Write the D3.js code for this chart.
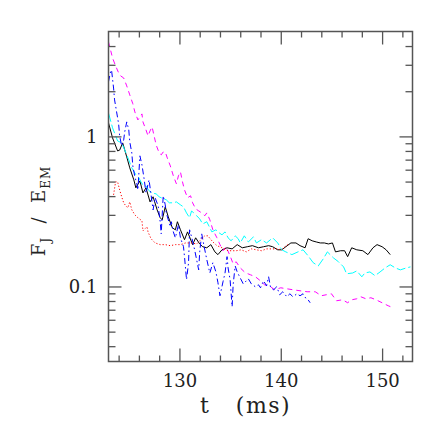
<!DOCTYPE html>
<html>
<head>
<meta charset="utf-8">
<script src="https://cdn.jsdelivr.net/npm/d3@7"></script>
<style>
body { margin: 0; background: #fff; }
text { font-family: "DejaVu Serif", "Liberation Serif", serif; fill: #222; }
</style>
</head>
<body>
<div id="chart"></div>
<script>
// F_J / E_EM versus time, five runs

var tBlack = [123.0,123.4,123.9,124.1,124.4,124.8,125.1,125.5,125.7,126.1,126.4,126.7,127.1,127.4,127.8,128.1,128.3,128.6,128.9,129.3,129.6,129.8,130.1,130.5,130.8,131.0,131.3,131.6,132.0,132.3,132.7,133.1,133.5,133.8,134.2,134.7,135.2,135.7,136.2,136.7,137.2,137.8,138.3,138.8,139.2,139.7,140.1,140.5,141.0,141.5,141.9,142.4,142.7,143.1,143.5,143.9,144.3,144.7,145.1,145.4,145.9,146.3,146.6,147.0,147.5,148.1,148.6,149.1,149.5,150.0,150.4,150.8];
var vBlack = [1.23,0.977,0.80,0.81,0.905,0.73,0.617,0.513,0.454,0.505,0.42,0.454,0.366,0.396,0.324,0.287,0.278,0.339,0.291,0.246,0.2385,0.27,0.2385,0.205,0.231,0.214,0.19,0.211,0.192,0.184,0.181,0.19,0.170,0.163,0.1755,0.181,0.178,0.19,0.181,0.184,0.187,0.181,0.184,0.187,0.184,0.1755,0.1755,0.184,0.195,0.195,0.187,0.181,0.208,0.2015,0.198,0.195,0.195,0.192,0.195,0.170,0.173,0.173,0.158,0.181,0.1755,0.173,0.163,0.181,0.19,0.184,0.1755,0.163];

var tCyan = [123.0,123.4,123.9,124.3,124.6,125.0,125.3,125.7,126.0,126.3,126.7,127.0,127.3,127.7,128.0,128.4,128.7,129.0,129.4,129.7,130.1,130.4,130.7,131.0,131.2,131.4,131.7,132.0,132.3,132.7,133.0,133.2,133.6,133.9,134.2,134.5,134.8,135.1,135.5,135.8,136.0,136.4,136.8,137.3,137.6,138.1,138.6,139.2,139.7,140.1,140.5,141.1,141.7,142.2,142.7,143.2,143.7,144.2,144.6,145.2,145.7,146.2,146.5,147.1,147.5,148.0,148.3,148.8,149.3,149.8,150.3,150.8,151.3,151.8,152.4,152.8];
var vCyan = [1.43,1.14,0.933,0.905,0.813,0.697,0.617,0.555,0.529,0.483,0.468,0.434,0.42,0.414,0.396,0.384,0.378,0.361,0.361,0.366,0.35,0.339,0.309,0.287,0.319,0.309,0.296,0.282,0.261,0.27,0.246,0.231,0.2385,0.228,0.221,0.231,0.211,0.2015,0.2175,0.208,0.195,0.2175,0.198,0.214,0.195,0.205,0.195,0.211,0.195,0.1755,0.170,0.163,0.170,0.1755,0.16,0.144,0.137,0.153,0.170,0.155,0.146,0.135,0.1215,0.123,0.127,0.116,0.123,0.125,0.118,0.125,0.133,0.1395,0.133,0.129,0.133,0.135];

var tMagenta = [123.0,123.2,123.4,123.7,124.0,124.2,124.5,124.8,125.1,125.4,125.6,125.9,126.1,126.3,126.4,126.7,126.9,127.1,127.3,127.5,127.7,128.0,128.2,128.4,128.6,128.8,129.1,129.4,129.7,129.9,130.1,130.3,130.5,130.8,131.1,131.3,131.6,131.9,132.2,132.5,132.7,133.0,133.3,133.7,134.0,134.3,134.6,135.0,135.3,135.6,136.0,136.5,137.0,137.5,138.0,138.4,139.0,139.4,140.0,140.6,141.2,141.9,142.6,143.4,144.0,144.5,145.0,145.5,146.1,146.6,147.0,147.5,147.9,148.4,148.9,149.4,150.0,150.6,151.1];
var vMagenta = [4.26,3.77,3.33,2.95,2.65,2.53,2.45,2.17,1.89,1.65,1.456,1.288,1.349,1.412,1.249,1.105,1.008,1.088,1.157,1.008,0.878,0.776,0.753,0.788,0.788,0.719,0.636,0.546,0.483,0.546,0.58,0.498,0.44,0.39,0.402,0.361,0.329,0.319,0.309,0.296,0.309,0.278,0.2385,0.211,0.19,0.173,0.184,0.16,0.1416,0.146,0.133,0.1234,0.1197,0.116,0.109,0.1026,0.0995,0.0951,0.098,0.0965,0.0951,0.0936,0.0922,0.0922,0.0867,0.0881,0.0894,0.0803,0.0815,0.0779,0.0815,0.0828,0.0854,0.0828,0.0841,0.0815,0.0779,0.0744,0.0721];

var tBlue = [123.0,123.2,123.3,123.5,123.6,123.8,124.0,124.1,124.3,124.5,124.6,124.8,125.0,125.1,125.3,125.4,125.6,125.8,125.9,126.1,126.3,126.5,126.7,127.0,127.2,127.4,127.6,127.9,128.1,128.2,128.4,128.6,128.7,128.9,129.1,129.2,129.4,129.6,129.9,130.1,130.4,130.5,130.7,130.9,131.0,131.2,131.5,131.9,132.0,132.2,132.4,132.7,133.0,133.3,133.6,133.8,134.0,134.3,134.5,134.7,134.8,135.0,135.2,135.3,135.5,135.7,136.0,136.3,136.6,136.8,137.1,137.5,137.8,138.0,138.3,138.6,138.8,139.0,139.3,139.6,139.9,140.2,140.6,140.9,141.2,141.6,141.9,142.2,142.5,142.7,142.9];
var vBlue = [2.31,2.69,2.77,2.10,1.75,1.456,1.211,1.008,0.865,0.948,1.071,1.249,1.105,0.919,0.776,0.636,0.538,0.483,0.44,0.742,0.646,0.529,0.42,0.513,0.408,0.324,0.39,0.345,0.27,0.224,0.402,0.35,0.309,0.278,0.25,0.27,0.231,0.211,0.2575,0.211,0.184,0.158,0.111,0.144,0.2385,0.214,0.1755,0.129,0.170,0.224,0.19,0.151,0.123,0.144,0.125,0.106,0.0867,0.1075,0.123,0.158,0.133,0.111,0.0733,0.1026,0.137,0.125,0.114,0.104,0.109,0.1125,0.104,0.0995,0.1026,0.098,0.109,0.101,0.116,0.098,0.0951,0.0995,0.0881,0.0922,0.0854,0.0894,0.0854,0.0894,0.0867,0.0894,0.0828,0.0815,0.0779];

var tRed = [123.5,123.7,123.9,124.1,124.3,124.5,124.7,124.9,125.1,125.3,125.6,125.9,126.3,126.4,126.8,126.9,127.2,127.6,128.1,128.6,129.1,129.6,130.1,130.6,131.2,131.7,132.2,132.5,132.8,133.3,133.7,134.2,134.8,135.6,136.1,136.6,137.1,137.6,138.1,138.6,139.1,139.6,140.1,140.4,140.7];
var vRed = [0.408,0.498,0.498,0.44,0.396,0.361,0.345,0.334,0.366,0.324,0.30,0.287,0.274,0.235,0.25,0.231,0.208,0.195,0.19,0.19,0.187,0.19,0.19,0.195,0.195,0.192,0.208,0.2175,0.2175,0.198,0.187,0.181,0.173,0.173,0.1755,0.170,0.178,0.1755,0.173,0.178,0.178,0.178,0.1755,0.184,0.19];

var xMajor = [130, 140, 150];
var xMinor = [124,126,128,132,134,136,138,142,144,146,148,152];
var yMajor = [0.1, 1];
var yMinor = [0.04,0.05,0.06,0.07,0.08,0.09,0.2,0.3,0.4,0.5,0.6,0.7,0.8,0.9,2,3,4];
var yLabels = ["0.1", "1"];

var W = 443, H = 443;
var pL = 108.5, pR = 412.5, pT = 31.5, pB = 361.5;
var serif = "'DejaVu Serif', 'Liberation Serif', serif";

var svg = d3.select("#chart").append("svg")
    .attr("width", W)
    .attr("height", H);

var x = d3.scaleLinear().domain([123, 153]).range([pL, pR]);
var y = d3.scaleLog().domain([Math.pow(10, -1.5), 5]).range([pB, pT]);

svg.append("clipPath").attr("id", "clip")
  .append("rect")
    .attr("x", pL).attr("y", pT)
    .attr("width", pR - pL).attr("height", pB - pT);

var series = [
  {t: tBlack,   v: vBlack,   color: "#000",    dash: null},
  {t: tCyan,    v: vCyan,    color: "#00ffff", dash: "9,3"},
  {t: tMagenta, v: vMagenta, color: "#ff00ff", dash: "5,4"},
  {t: tBlue,    v: vBlue,    color: "#0000ff", dash: "6,3,1.5,3"},
  {t: tRed,     v: vRed,     color: "#ff0000", dash: "1.2,2"}
];

var line = d3.line()
    .x(function(d) { return x(d[0]); })
    .y(function(d) { return y(d[1]); });

var g = svg.append("g").attr("clip-path", "url(#clip)");

series.forEach(function(s) {
  var pts = s.t.map(function(t, i) { return [t, s.v[i]]; });
  g.append("path")
    .datum(pts)
    .attr("d", line)
    .attr("fill", "none")
    .attr("stroke", s.color)
    .attr("stroke-width", 1)
    .attr("stroke-dasharray", s.dash);
});

// axes: ticks on all four sides pointing inward
var axColor = "#555";
function styleAxis(sel) {
  sel.attr("font-family", serif);
  sel.select(".domain").remove();
  sel.selectAll("line").attr("stroke", axColor).attr("stroke-width", 1.3);
}

svg.append("g").attr("transform", "translate(0," + pB + ")")
  .call(d3.axisBottom(x).tickValues(xMinor).tickSize(-6).tickFormat(""))
  .call(styleAxis);
var xb = svg.append("g").attr("transform", "translate(0," + pB + ")")
  .call(d3.axisBottom(x).tickValues(xMajor).tickSize(-13).tickPadding(0).tickFormat(d3.format("d")))
  .call(styleAxis);
xb.selectAll("text")
  .attr("y", 25.5).attr("dy", null)
  .attr("font-size", 18).attr("fill", "#222")
  .style("font-family", serif);

svg.append("g").attr("transform", "translate(0," + pT + ")")
  .call(d3.axisTop(x).tickValues(xMinor).tickSize(-6).tickFormat(""))
  .call(styleAxis);
svg.append("g").attr("transform", "translate(0," + pT + ")")
  .call(d3.axisTop(x).tickValues(xMajor).tickSize(-13).tickFormat(""))
  .call(styleAxis);

svg.append("g").attr("transform", "translate(" + pL + ",0)")
  .call(d3.axisLeft(y).tickValues(yMinor).tickSize(-7).tickFormat(""))
  .call(styleAxis);
var yl = svg.append("g").attr("transform", "translate(" + pL + ",0)")
  .call(d3.axisLeft(y).tickValues(yMajor).tickSize(-13).tickPadding(0)
    .tickFormat(function(d, i) { return yLabels[i]; }))
  .call(styleAxis);
yl.selectAll("text")
  .attr("x", -11).attr("dy", "0.36em")
  .attr("font-size", 18).attr("fill", "#222")
  .style("font-family", serif);

svg.append("g").attr("transform", "translate(" + pR + ",0)")
  .call(d3.axisRight(y).tickValues(yMinor).tickSize(-7).tickFormat(""))
  .call(styleAxis);
svg.append("g").attr("transform", "translate(" + pR + ",0)")
  .call(d3.axisRight(y).tickValues(yMajor).tickSize(-13).tickFormat(""))
  .call(styleAxis);

// frame
svg.append("rect")
  .attr("x", pL).attr("y", pT)
  .attr("width", pR - pL).attr("height", pB - pT)
  .attr("fill", "none")
  .attr("stroke", axColor)
  .attr("stroke-width", 1.5);

// axis titles
svg.append("text")
  .attr("x", 200).attr("y", 413)
  .attr("font-size", 22)
  .style("font-family", serif)
  .style("white-space", "pre")
  .style("letter-spacing", "1.5px")
  .text("t   (ms)");

var yt = svg.append("text")
  .attr("transform", "translate(45,211) rotate(-90)")
  .attr("text-anchor", "middle")
  .attr("font-size", 18)
  .style("font-family", serif)
  .style("white-space", "pre")
  .style("letter-spacing", "1px");
yt.append("tspan").text("F");
yt.append("tspan").attr("dy", 5).attr("font-size", 12).text("J");
yt.append("tspan").attr("dy", -5).text("  /  E");
yt.append("tspan").attr("dy", 5).attr("font-size", 12).text("EM");
</script>
</body>
</html>
